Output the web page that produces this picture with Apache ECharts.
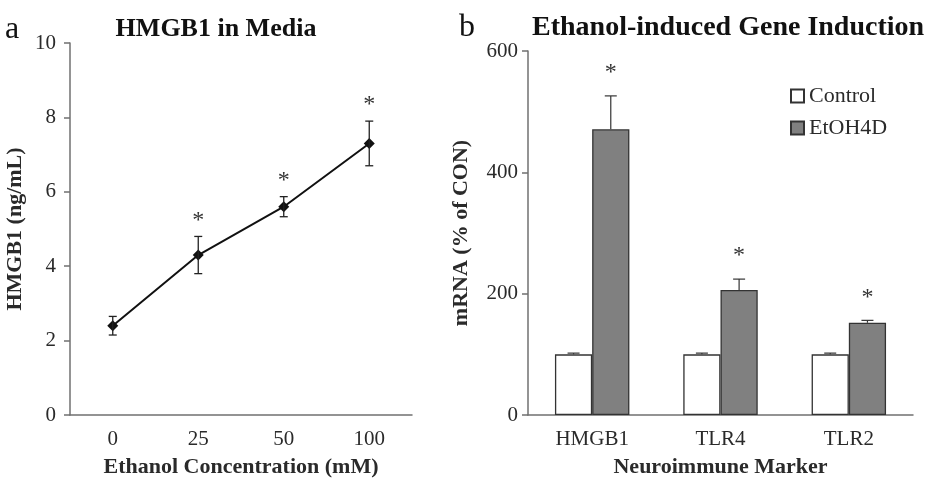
<!DOCTYPE html>
<html>
<head>
<meta charset="utf-8">
<script src="https://cdn.jsdelivr.net/npm/echarts@6/dist/echarts.min.js"></script>
<style>
  html, body { margin: 0; padding: 0; background: #fff; }
  #main { width: 929px; height: 478px; }
</style>
</head>
<body>
<div id="main"></div>
<script>
// panel a
var concLabels = ["0", "25", "50", "100"];
var hmgbMean = [2.4, 4.3, 5.6, 7.3];
var hmgbErr = [0.25, 0.5, 0.27, 0.6];
var hmgbSig = [0, 1, 1, 1];

// panel b
var markers = ["HMGB1", "TLR4", "TLR2"];
var controlVals = [100, 100, 100];
var controlErr = [2, 2, 2];
var etohVals = [471, 206, 152];
var etohErr = [55, 18, 4];
var etohSig = [1, 1, 1];

var serif = "Liberation Serif";
var axisCol = "#707070";
var textCol = "#2a2a2a";

var chart = echarts.init(document.getElementById("main"));

// error bars for panel a
function lineErrItem(params, api) {
  var i = api.value(0);
  var m = api.value(1), e = api.value(2), s = api.value(3);
  var top = api.coord([i, m + e]);
  var bot = api.coord([i, m - e]);
  var cap = 4;
  var st = { stroke: "#222", lineWidth: 1.3 };
  var children = [
    { type: "line", shape: { x1: top[0], y1: top[1], x2: bot[0], y2: bot[1] }, style: st },
    { type: "line", shape: { x1: top[0] - cap, y1: top[1], x2: top[0] + cap, y2: top[1] }, style: st },
    { type: "line", shape: { x1: bot[0] - cap, y1: bot[1], x2: bot[0] + cap, y2: bot[1] }, style: st }
  ];
  if (s) {
    children.push({ type: "text", x: top[0], y: top[1] - 4, style: { text: "*", fill: "#333", font: "24px " + serif, align: "center", verticalAlign: "bottom" } });
  }
  return { type: "group", children: children };
}

// error bars for panel b, upward only, shifted onto each bar
function barErrMaker(side) {
  return function (params, api) {
    var i = api.value(0);
    var m = api.value(1), e = api.value(2), s = api.value(3);
    var band = api.size([1, 0])[0];
    var bw = band * (1 - 0.42) / 2;
    var c = api.coord([i, m]);
    var t = api.coord([i, m + e]);
    var x = c[0] + side * bw / 2;
    var cap = 6;
    var st = { stroke: "#333", lineWidth: 1.2 };
    var children = [
      { type: "line", shape: { x1: x, y1: c[1], x2: x, y2: t[1] }, style: st },
      { type: "line", shape: { x1: x - cap, y1: t[1], x2: x + cap, y2: t[1] }, style: st }
    ];
    if (s) {
      children.push({ type: "text", x: x, y: t[1] - 11, style: { text: "*", fill: "#333", font: "24px " + serif, align: "center", verticalAlign: "bottom" } });
    }
    return { type: "group", children: children };
  };
}

var lineSt = { color: axisCol, width: 1.5 };
var nameSt = { color: textCol, fontFamily: serif, fontSize: 22, fontWeight: "bold" };
var labelSt = { color: textCol, fontFamily: serif, fontSize: 21 };

var option = {
  backgroundColor: "#fff",
  animation: false,
  graphic: [
    { type: "text", x: 5, y: 14, style: { text: "a", font: "32px " + serif, fill: "#111", verticalAlign: "top" } },
    { type: "text", x: 216, y: 16, style: { text: "HMGB1 in Media", font: "bold 26px " + serif, fill: "#111", align: "center", verticalAlign: "top" } },
    { type: "text", x: 459, y: 12, style: { text: "b", font: "32px " + serif, fill: "#111", verticalAlign: "top" } },
    { type: "text", x: 532, y: 14, style: { text: "Ethanol-induced Gene Induction", font: "bold 28px " + serif, fill: "#111", align: "left", verticalAlign: "top" } }
  ],
  legend: {
    data: ["Control", "EtOH4D"],
    orient: "vertical",
    left: 785,
    top: 80,
    icon: "rect",
    itemWidth: 13,
    itemHeight: 13,
    itemGap: 10,
    textStyle: { color: textCol, fontFamily: serif, fontSize: 22 }
  },
  grid: [
    { left: 70, top: 43, width: 342, height: 372, outerBoundsMode: "none" },
    { left: 528, top: 51, width: 385, height: 364, outerBoundsMode: "none" }
  ],
  xAxis: [
    {
      gridIndex: 0, type: "category", data: concLabels,
      name: "Ethanol Concentration (mM)", nameLocation: "middle", nameGap: 41,
      nameTextStyle: nameSt,
      axisLine: { lineStyle: lineSt },
      axisTick: { lineStyle: lineSt, length: 5 },
      axisLabel: Object.assign({ margin: 14 }, labelSt)
    },
    {
      gridIndex: 1, type: "category", data: markers,
      name: "Neuroimmune Marker", nameLocation: "middle", nameGap: 41,
      nameTextStyle: nameSt,
      axisLine: { lineStyle: lineSt },
      axisTick: { lineStyle: lineSt, length: 5 },
      axisLabel: Object.assign({ margin: 14 }, labelSt)
    }
  ],
  yAxis: [
    {
      gridIndex: 0, type: "value", min: 0, max: 10, interval: 2,
      name: "HMGB1 (ng/mL)", nameLocation: "middle", nameGap: 44,
      nameTextStyle: nameSt,
      axisLine: { show: true, lineStyle: lineSt },
      axisTick: { show: true, lineStyle: lineSt, length: 6 },
      axisLabel: Object.assign({ margin: 14 }, labelSt),
      splitLine: { show: false }
    },
    {
      gridIndex: 1, type: "value", min: 0, max: 600, interval: 200,
      name: "mRNA (% of CON)", nameLocation: "middle", nameGap: 56,
      nameTextStyle: nameSt,
      axisLine: { show: true, lineStyle: lineSt },
      axisTick: { show: true, lineStyle: lineSt, length: 6 },
      axisLabel: Object.assign({ margin: 10 }, labelSt),
      splitLine: { show: false }
    }
  ],
  series: [
    {
      type: "line", xAxisIndex: 0, yAxisIndex: 0,
      data: hmgbMean,
      symbol: "diamond", symbolSize: 11,
      itemStyle: { color: "#111" },
      lineStyle: { color: "#111", width: 2 },
      z: 3
    },
    {
      type: "custom", xAxisIndex: 0, yAxisIndex: 0,
      data: hmgbMean.map(function (v, i) { return [i, v, hmgbErr[i], hmgbSig[i]]; }),
      renderItem: lineErrItem,
      z: 4
    },
    {
      name: "Control", type: "bar", xAxisIndex: 1, yAxisIndex: 1,
      data: controlVals,
      barGap: "0%", barCategoryGap: "42%",
      itemStyle: { color: "#ffffff", borderColor: "#333", borderWidth: 1.3 }
    },
    {
      name: "EtOH4D", type: "bar", xAxisIndex: 1, yAxisIndex: 1,
      data: etohVals,
      barGap: "0%", barCategoryGap: "42%",
      itemStyle: { color: "#808080", borderColor: "#333", borderWidth: 1.3 }
    },
    {
      type: "custom", xAxisIndex: 1, yAxisIndex: 1,
      data: controlVals.map(function (v, i) { return [i, v, controlErr[i], 0]; }),
      renderItem: barErrMaker(-1),
      z: 4
    },
    {
      type: "custom", xAxisIndex: 1, yAxisIndex: 1,
      data: etohVals.map(function (v, i) { return [i, v, etohErr[i], etohSig[i]]; }),
      renderItem: barErrMaker(1),
      z: 4
    }
  ]
};

chart.setOption(option);
</script>
</body>
</html>
